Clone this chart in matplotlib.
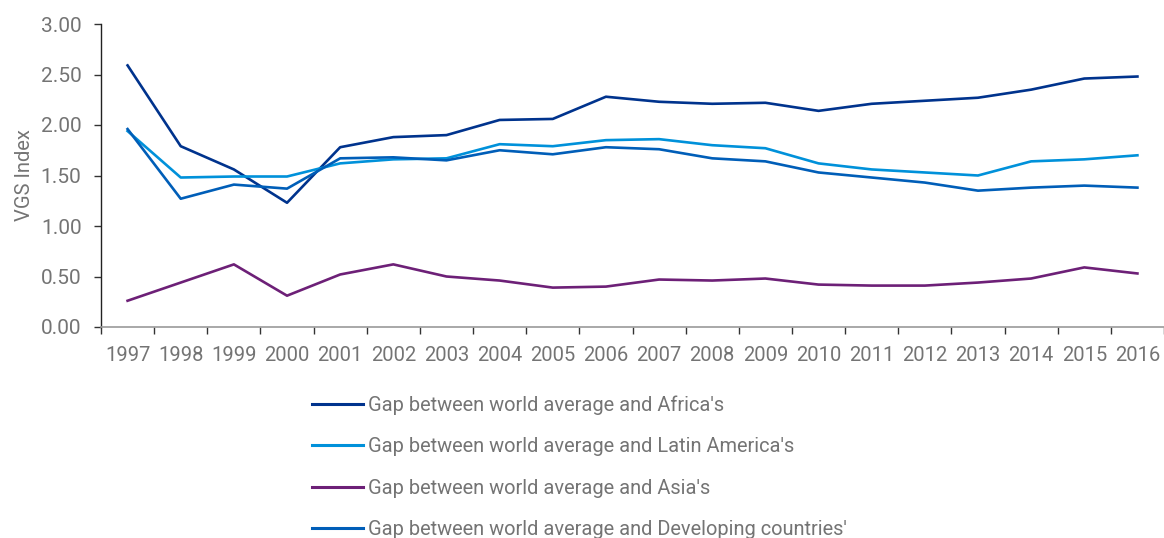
import matplotlib
matplotlib.use("Agg")
import matplotlib.pyplot as plt
import numpy as np

years = [str(y) for y in range(1997, 2017)]

africa = [2.59, 1.79, 1.56, 1.23, 1.78, 1.88, 1.90, 2.05, 2.06, 2.28,
          2.23, 2.21, 2.22, 2.14, 2.21, 2.24, 2.27, 2.35, 2.46, 2.48]
latin_america = [1.94, 1.48, 1.49, 1.49, 1.62, 1.66, 1.67, 1.81, 1.79, 1.85,
                 1.86, 1.80, 1.77, 1.62, 1.56, 1.53, 1.50, 1.64, 1.66, 1.70]
asia = [0.26, 0.44, 0.62, 0.31, 0.52, 0.62, 0.50, 0.46, 0.39, 0.40,
        0.47, 0.46, 0.48, 0.42, 0.41, 0.41, 0.44, 0.48, 0.59, 0.53]
developing = [1.96, 1.27, 1.41, 1.37, 1.67, 1.68, 1.65, 1.75, 1.71, 1.78,
              1.76, 1.67, 1.64, 1.53, 1.48, 1.43, 1.35, 1.38, 1.40, 1.38]

series = [
    ("Gap between world average and Africa's", africa, "#00338D"),
    ("Gap between world average and Latin America's", latin_america, "#0091DA"),
    ("Gap between world average and Asia's", asia, "#6D2077"),
    ("Gap between world average and Developing countries'", developing, "#005EB8"),
]

plt.rcParams['font.family'] = ['Roboto', 'DejaVu Sans']
text_color = "#747474"

W, H = 1164, 538
fig = plt.figure(figsize=(W / 100, H / 100), dpi=100)
ax = fig.add_axes([101 / W, 1 - 327 / H, (1164 - 101) / W, (327 - 24) / H])

x = np.arange(len(years))
for label, vals, color in series:
    ax.plot(x, vals, color=color, lw=1.9, label=label, solid_joinstyle='round')

ax.set_xlim(-0.5, len(years) - 0.5)
ax.set_ylim(0, 3.0)
ax.set_yticks(np.arange(0, 3.01, 0.5))
ax.set_yticklabels([f"{v:.2f}" for v in np.arange(0, 3.01, 0.5)])

# year labels centred in each band, tick marks on the band boundaries
ax.set_xticks(x)
ax.set_xticklabels(years)
ax.set_xticks(np.arange(-0.5, len(years), 1.0), minor=True)
ax.tick_params(axis='x', which='major', length=0, pad=14, labelsize=14.5, colors=text_color)
ax.tick_params(axis='x', which='minor', length=5, width=1, color="#333333", direction='out')
ax.tick_params(axis='y', length=5, width=1, color="#333333", pad=9, labelsize=15, labelcolor=text_color)

for s in ['top', 'right']:
    ax.spines[s].set_visible(False)
ax.spines['left'].set_color("#222222")
ax.spines['bottom'].set_color("#999999")
ax.spines['left'].set_linewidth(1)
ax.spines['bottom'].set_linewidth(1.2)

ax.set_ylabel("VGS Index", fontsize=14.5, color=text_color, labelpad=5)

leg = fig.legend(loc='upper left', bbox_to_anchor=(312 / W, 1 - 395 / H), frameon=False,
                 fontsize=14.4, handlelength=2.55, handletextpad=0.25, labelspacing=1.13,
                 borderpad=0, borderaxespad=0)
for t in leg.get_texts():
    t.set_color(text_color)
for h in leg.get_lines():
    h.set_linewidth(2.2)

fig.savefig("out.png", dpi=100)
